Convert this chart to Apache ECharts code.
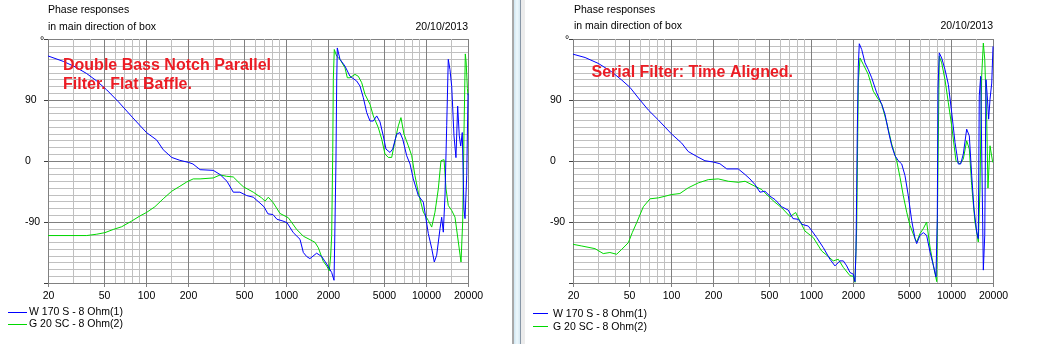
<!DOCTYPE html>
<html>
<head>
<meta charset="utf-8">
<title>Phase responses</title>
<script src="https://cdn.jsdelivr.net/npm/echarts@6/dist/echarts.min.js"></script>
<style>
  html, body { margin: 0; padding: 0; background: #fff; }
  #chart { width: 1038px; height: 344px; }
</style>
</head>
<body>
<div id="chart"></div>
<script>
// ---- Data: [frequency Hz, phase degrees] ----
// Panel 1: double bass notch, parallel filter, flat baffle
const parallelW170 = [
  [20,155],[25.7,147],[31.2,139],[37.8,129],[44.6,118],[52.5,105],[63.6,87.5],[80,64.6],[101,42],[119.5,31],
  [133,16.6],[153,5.3],[175,1],[201,-2],[217,-4.4],[244,-12.8],[303,-13.8],[339,-20],[380,-30],[421,-46],
  [470,-46],[525,-51],[585,-53.4],[653,-62],[698,-67.5],[745,-78],[809,-79],[864,-86],[954,-88.6],[1019,-91],
  [1130,-105.7],[1262,-115.5],[1333,-135],[1409,-141],[1486,-144],[1660,-136],[1804,-141],[1958,-152],[2125,-164.5],[2208,-176],
  [2233,-119.5],[2280,0],[2308,118],[2330,166.8],[2436,150],[2644,140],[2871,125],[3206,118],[3386,110.5],[3576,93.4],
  [3780,71.4],[3990,59],[4214,59],[4456,66.5],[4704,57.7],[4966,37],[5190,17.6],[5546,12.6],[5794,17.6],[6190,39.6],
  [6532,42],[6834,32.3],[7296,7.8],[7710,-4.4],[8132,-26.4],[8832,-51],[9594,-60.8],[10412,-107],[11010,-129],[11488,-149],
  [11950,-139],[12620,-100],[12972,-83],[13328,-105],[13700,-51],[14092,52],[14460,150],[14866,135],[15300,110],[15886,37],
  [16408,5],[16872,81],[17330,37],[17740,22],[18200,42],[18708,-70.5],[19040,-85],[19590,-21.6],[20000,100]
];
const parallelG20 = [
  [20,-110],[37.8,-110],[44.6,-108],[51,-105.7],[58.5,-101],[67.2,-97],[79.2,-88.6],[90.8,-81],[101,-76],[116,-67.5],
  [133,-55.8],[153,-44.6],[175,-37.3],[196,-30.9],[218,-26.4],[244,-26.4],[303,-25],[339,-20.6],[378,-22.6],[421,-23.5],
  [470,-33.3],[497,-38],[585,-46],[671,-54.4],[710,-59.3],[749,-53.4],[813,-61.7],[908,-77.4],[1041,-83.7],[1194,-100.9],
  [1333,-111],[1486,-116],[1614,-120],[1706,-128],[1850,-148],[1958,-155],[2042,-162],[2090,-140],[2125,-109.7],[2162,12.6],
  [2183,120],[2218,164.5],[2308,154.6],[2436,150],[2644,137.5],[2748,122.8],[2871,122.8],[3118,127.8],[3292,125],[3482,115.5],
  [3674,98.4],[3990,83.7],[4214,66.5],[4572,49.4],[4838,32.3],[5106,10.3],[5392,5.3],[5702,5.3],[6022,29.8],[6356,51.8],
  [6640,64],[6980,39.6],[7492,22.5],[7926,7.8],[8360,-21.6],[8832,-46],[9594,-75.5],[10412,-87.7],[11010,-97.5],[11616,-75.5],
  [12276,-41],[12820,0.4],[13486,2],[13932,-41],[14460,-65.6],[15300,-73],[16150,-82.8],[17060,-119.5],[17826,-149],[18324,-90],
  [18708,37],[19132,158],[19400,146],[19800,107],[20000,97]
];
// Panel 2: serial filter, time aligned
const serialW170 = [
  [20,157.6],[24.4,152.7],[30.3,144],[37.8,131.6],[44.6,119.4],[51,108.7],[60.2,90],[69,75.3],[81.3,60.6],[101,40],
  [119.5,26.4],[133,14],[153,6.8],[175,0.4],[201,-1.5],[224,-4],[251,-11.7],[303,-11.7],[339,-20],[367,-26.4],
  [399,-34.8],[433,-46],[470,-44.6],[511,-52],[555,-57],[619,-67.5],[690,-72.5],[745,-85],[813,-86],[864,-93.5],
  [959,-96],[1019,-103.4],[1101,-113],[1227,-127.8],[1370,-145],[1486,-154.8],[1614,-147.4],[1706,-147.4],[1804,-154.8],[1904,-164.5],
  [2010,-167],[2066,-178],[2100,-134],[2125,-46],[2146,42],[2183,140],[2218,173],[2308,164.5],[2436,144.8],[2570,135],
  [2720,122.8],[2952,100.7],[3206,83.7],[3386,69],[3576,44.5],[3780,22.5],[3990,7.8],[4214,0.4],[4456,-4.4],[4704,-21.6],
  [4966,-51],[5250,-87.7],[5546,-114.5],[5702,-121.9],[6022,-109.7],[6356,-105.7],[6714,-109.7],[7096,-134],[7492,-153.7],[7830,-171],
  [8000,-85],[8092,105.7],[8266,159.5],[8600,152],[9080,135],[9594,113],[10140,71.4],[10710,27.3],[11300,-4.4],[11750,-4.4],
  [12276,10.3],[12972,47],[13550,37],[14092,-21.6],[14626,-70.5],[15300,-104.8],[15704,-114.5],[15960,96],[16332,125],[16680,-11.7],
  [17060,-161],[17460,-109.7],[17826,120],[18200,96],[18620,61.7],[19040,91],[19590,115],[20000,169]
];
const serialG20 = [
  [20,-122.9],[23.1,-125.4],[28.7,-129.3],[32.9,-136.6],[36.7,-135],[41,-137.6],[44.6,-130.3],[49.7,-120.5],[53,-105.7],[57,-91],
  [63.6,-67.5],[71,-55.8],[81.3,-54.4],[90.8,-52],[101,-49.5],[116,-48],[133,-39.6],[157,-32.3],[185,-27.5],[218,-26.4],
  [257,-29.9],[303,-31.4],[339,-29.9],[399,-37.3],[446,-42.1],[497,-52],[555,-61],[619,-69],[710,-82],[779,-76],
  [908,-103.4],[1041,-113],[1194,-132.7],[1333,-141],[1446,-147.4],[1571,-145],[1706,-157],[1904,-169.3],[2010,-170],[2066,-179],
  [2125,-100],[2183,115.4],[2244,152],[2370,142.5],[2570,127.8],[2792,103],[3034,91],[3206,83.7],[3482,56.7],[3780,25],
  [4104,0.4],[4332,-24],[4572,-51],[4838,-75.5],[5106,-95],[5546,-114.5],[5702,-119.5],[6022,-107],[6356,-99.8],[6714,-90],
  [7096,-126.9],[7492,-153.7],[7926,-178],[8092,-11.7],[8266,154.6],[8600,144.8],[9080,120],[9594,86],[10140,51.8],[10880,0.4],
  [11616,-4.4],[12276,3],[12972,29.8],[13550,17.6],[14092,-36.3],[14866,-90],[15704,-119.5],[16150,-40],[16600,125],[17060,174],
  [17460,150],[18030,61.7],[18410,-40],[19040,22.5],[19900,-2]
];

// ---- Axis and text content ----
const freqGridLines = [20,30,40,50,60,70,80,90,100,150,200,300,400,500,600,700,800,900,
  1000,1500,2000,3000,4000,5000,6000,7000,8000,9000,10000,15000,20000];
const freqTickLabels = ['20','50','100','200','500','1000','2000','5000','10000','20000'];
const phaseTickLabels = ['90','0','-90'];
const seriesNames = ['W 170 S - 8 Ohm(1)', 'G 20 SC - 8 Ohm(2)'];
const titleLines = ['Phase responses', 'in main direction of box'];
const dateText = '20/10/2013';
const unitText = '°';
const notesParallel = ['Double Bass Notch Parallel', 'Filter. Flat Baffle.'];
const notesSerial = ['Serial Filter: Time Aligned.'];

// ---- Styling ----
const FONT = "'Liberation Sans', Arial, sans-serif";
const SMALL = '10.5px ' + FONT;
const BLUE = '#0000ff';
const GREEN = '#00d800';
const GRID_LIGHT = '#c0c0c0';
const GRID_DARK = '#808080';
const NOTE_RED = '#ec1c24';

const majorFreqs = new Set(freqTickLabels.map(Number));

// vertical log grid lines plus frequency labels, placed through the axis scale
function renderFreqGrid(params, api) {
  const f = api.value(0);
  const top = api.coord([f, 180]);
  const bot = api.coord([f, -180]);
  const x = Math.round(top[0]) + 0.5;
  const major = majorFreqs.has(f);
  const children = [{
    type: 'line',
    shape: { x1: x, y1: Math.round(top[1]), x2: x, y2: Math.round(bot[1]) + (major ? 4 : 0) },
    style: { stroke: major ? GRID_DARK : GRID_LIGHT, lineWidth: 1 }
  }];
  if (major) {
    children.push({
      type: 'text',
      style: { text: String(f), x: x, y: Math.round(bot[1]) + 13, align: 'center', verticalAlign: 'middle', fill: '#000', font: SMALL }
    });
  }
  return { type: 'group', children: children };
}

function gridSeries(idx) {
  return {
    type: 'custom', xAxisIndex: idx, yAxisIndex: idx, z: 1, silent: true, clip: false,
    data: freqGridLines.map(f => [f, 0]),
    encode: { x: 0, y: 1 },
    renderItem: renderFreqGrid
  };
}

function phaseSeries(idx, name, data, color, z) {
  return {
    type: 'line', name: name, xAxisIndex: idx, yAxisIndex: idx, data: data,
    showSymbol: false, symbol: 'none', z: z,
    lineStyle: { color: color, width: 1 }, itemStyle: { color: color }
  };
}

function xAxisDef(idx) {
  return {
    type: 'log', logBase: 10, gridIndex: idx, min: 20, max: 20000,
    axisLine: { show: false }, axisTick: { show: false }, axisLabel: { show: false }, splitLine: { show: false }
  };
}

function yAxisDef(idx) {
  return {
    type: 'value', gridIndex: idx, min: -180, max: 180, interval: 90,
    axisLine: { show: false },
    axisTick: { show: true, length: 4, lineStyle: { color: '#404040' } },
    axisLabel: {
      show: true, margin: 23, align: 'left', color: '#000', fontSize: 10.5, fontFamily: FONT,
      formatter: v => phaseTickLabels.includes(String(v)) ? String(v) : ''
    },
    splitLine: { show: true, lineStyle: { color: GRID_DARK, width: 1 } },
    minorTick: { show: false, splitNumber: 9 },
    minorSplitLine: { show: true, lineStyle: { color: GRID_LIGHT, width: 1 } }
  };
}

function txt(x, y, text, opts) {
  return {
    type: 'text', x: x, y: y, z: 100, silent: true,
    style: Object.assign({ text: text, fill: '#000', font: SMALL, align: 'left', verticalAlign: 'middle' }, opts || {})
  };
}

function legendItems(x0, x1, textX, rows) {
  const out = [];
  rows.forEach(r => {
    out.push({ type: 'line', z: 100, silent: true, shape: { x1: x0, y1: r.y, x2: x1, y2: r.y }, style: { stroke: r.color, lineWidth: 1 } });
    out.push(txt(textX, r.ty, r.name));
  });
  return out;
}

const graphic = [
  // panel 1 header
  txt(48, 10.5, titleLines[0]),
  txt(48, 27.5, titleLines[1]),
  txt(468, 27.5, dateText, { align: 'right' }),
  txt(42, 41, unitText, { align: 'center' }),
  txt(63, 65.5, notesParallel[0], { fill: NOTE_RED, font: 'bold 16px ' + FONT }),
  txt(63, 84.5, notesParallel[1], { fill: NOTE_RED, font: 'bold 16px ' + FONT }),
  // panel 2 header
  txt(574, 10.5, titleLines[0]),
  txt(574, 26.5, titleLines[1]),
  txt(993, 26.5, dateText, { align: 'right' }),
  txt(567, 40.5, unitText, { align: 'center' }),
  txt(591.5, 72.5, notesSerial[0], { fill: NOTE_RED, font: 'bold 16px ' + FONT }),
  // window divider between the two panels
  { type: 'rect', z: 100, silent: true, shape: { x: 512, y: 0, width: 2, height: 344 }, style: { fill: '#a8a8a8' } },
  { type: 'rect', z: 100, silent: true, shape: { x: 514, y: 0, width: 6, height: 344 },
    style: { fill: { type: 'linear', x: 0, y: 0, x2: 1, y2: 0, colorStops: [
      { offset: 0, color: '#cfe6f2' }, { offset: 0.5, color: '#eef8fc' }, { offset: 1, color: '#d6e8f2' }] } } },
  { type: 'rect', z: 100, silent: true, shape: { x: 520, y: 0, width: 1, height: 344 }, style: { fill: '#8796a6' } },
  { type: 'rect', z: 100, silent: true, shape: { x: 521, y: 0, width: 4, height: 344 }, style: { fill: '#ececec' } }
].concat(
  legendItems(8, 27, 29, [
    { y: 312.5, ty: 312.5, color: BLUE, name: seriesNames[0] },
    { y: 324.5, ty: 324.5, color: GREEN, name: seriesNames[1] }
  ]),
  legendItems(533, 548, 553, [
    { y: 313.5, ty: 314, color: BLUE, name: seriesNames[0] },
    { y: 326.5, ty: 327, color: GREEN, name: seriesNames[1] }
  ])
);

const chart = echarts.init(document.getElementById('chart'), null, { renderer: 'canvas' });
chart.setOption({
  animation: false,
  backgroundColor: '#fff',
  grid: [
    { left: 48, top: 39, width: 420, height: 244 },
    { left: 573, top: 39, width: 420, height: 244 }
  ],
  xAxis: [xAxisDef(0), xAxisDef(1)],
  yAxis: [yAxisDef(0), yAxisDef(1)],
  series: [
    gridSeries(0),
    gridSeries(1),
    phaseSeries(0, seriesNames[1], parallelG20, GREEN, 3),
    phaseSeries(0, seriesNames[0], parallelW170, BLUE, 4),
    phaseSeries(1, seriesNames[1], serialG20, GREEN, 3),
    phaseSeries(1, seriesNames[0], serialW170, BLUE, 4)
  ],
  graphic: graphic
});
</script>
</body>
</html>
